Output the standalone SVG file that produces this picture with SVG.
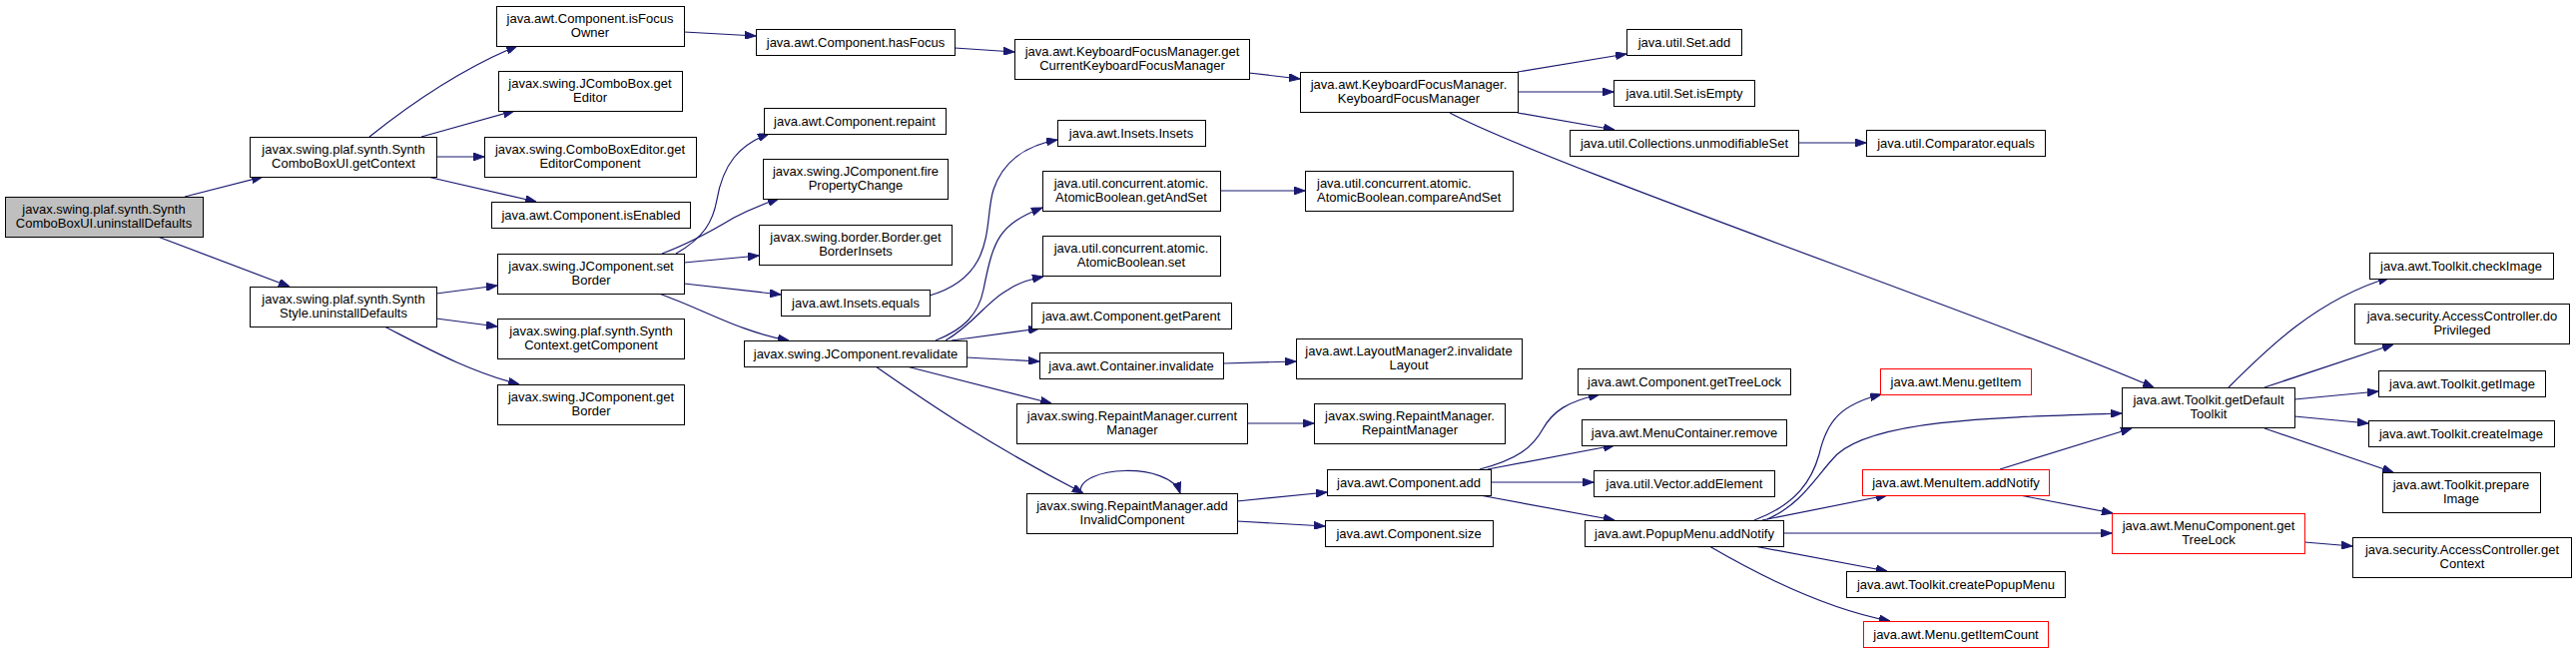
<svg xmlns="http://www.w3.org/2000/svg" width="2580" height="654" viewBox="0 0 2580 654">
<style>
.n rect{fill:#fff;stroke:#000;stroke-width:1}
.root rect{fill:#bfbfbf}
.red rect{stroke:#ff0000}
text{font-family:"Liberation Sans",Arial,sans-serif;font-size:13px;fill:#000;text-anchor:middle}
.l text{text-anchor:start}
.e path{fill:none;stroke:#191970;stroke-width:1.2;marker-end:url(#a)}
</style>
<defs>
<marker id="a" markerUnits="userSpaceOnUse" viewBox="0 0 11 8" refX="11" refY="4" markerWidth="11" markerHeight="8" orient="auto">
<path d="M0,0 L11,4 L0,8 z" fill="#191970" stroke="#191970" stroke-width="1"/>
</marker>
</defs>
<rect width="2580" height="654" fill="#fff"/>
<g class="e" id="edges">
<path d="M185,197 L263,177"/>
<path d="M158,237 L290,287"/>
<path d="M370,137 C410,105 460,70 518,46"/>
<path d="M422,137 L515,111"/>
<path d="M437,157 L485,157"/>
<path d="M428,177 L537,202"/>
<path d="M437,294 L498,286"/>
<path d="M437,319 L498,327"/>
<path d="M385,327 C430,350 470,372 520,385"/>
<path d="M677,254 C705,238 714,222 718,200 C724,165 740,145 770,134"/>
<path d="M663,254 C690,244 715,230 735,218 C750,210 765,204 780,199"/>
<path d="M685,263 L760,256"/>
<path d="M685,284 L782,295"/>
<path d="M660,294 C705,310 740,332 790,341"/>
<path d="M931,296 C1000,276 985,220 995,190 C1005,160 1030,145 1059,140"/>
<path d="M937,341 C965,330 980,315 985,290 C995,240 1000,225 1044,208"/>
<path d="M947,341 C975,325 990,300 1010,290 C1020,283 1030,280 1045,277"/>
<path d="M953,341 L1041,329"/>
<path d="M968,358 L1041,362"/>
<path d="M908,367 L1053,404"/>
<path d="M877,367 C930,404 990,445 1085,494"/>
<path d="M1082,494 C1078,466 1172,462 1182,494"/>
<path d="M1239,502 L1329,493"/>
<path d="M1239,522 L1327,527"/>
<path d="M1249,424 L1316,424"/>
<path d="M1225,364 L1298,362"/>
<path d="M1222,191 L1307,191"/>
<path d="M685,32 L757,36"/>
<path d="M956,48 L1016,52"/>
<path d="M1251,73 L1302,79"/>
<path d="M1520,72 L1629,54"/>
<path d="M1520,92 L1616,92"/>
<path d="M1520,113 L1617,130"/>
<path d="M1452,113 C1550,165 2000,320 2157,388"/>
<path d="M1801,143 L1869,143"/>
<path d="M1482,470 C1520,460 1535,448 1545,430 C1555,412 1570,402 1602,395"/>
<path d="M1490,470 L1617,446"/>
<path d="M1493,483 L1596,483"/>
<path d="M1482,496 L1617,521"/>
<path d="M1757,521 C1800,505 1815,480 1822,455 C1830,420 1845,405 1884,395"/>
<path d="M1770,520 C1805,505 1820,475 1840,455 C1880,420 2000,418 2125,414"/>
<path d="M1765,521 L1890,496"/>
<path d="M1786,534 L2115,534"/>
<path d="M1757,547 L1890,572"/>
<path d="M1712,547 C1760,575 1830,610 1893,622"/>
<path d="M2003,470 L2135,429"/>
<path d="M2023,496 L2116,514"/>
<path d="M2308,543 L2356,547"/>
<path d="M2232,388 C2270,350 2320,300 2393,278"/>
<path d="M2268,388 L2397,345"/>
<path d="M2298,400 L2382,392"/>
<path d="M2298,417 L2372,424"/>
<path d="M2268,429 L2397,473"/>
</g>
<g id="n0" class="n root"><rect x="5.5" y="197.5" width="198" height="40"/><text x="104" y="214">javax.swing.plaf.synth.Synth</text><text x="104" y="228">ComboBoxUI.uninstallDefaults</text></g>
<g id="n1" class="n"><rect x="250.5" y="137.5" width="187" height="40"/><text x="344" y="154">javax.swing.plaf.synth.Synth</text><text x="344" y="168">ComboBoxUI.getContext</text></g>
<g id="n2" class="n"><rect x="250.5" y="287.5" width="187" height="40"/><text x="344" y="304">javax.swing.plaf.synth.Synth</text><text x="344" y="318">Style.uninstallDefaults</text></g>
<g id="n3" class="n"><rect x="497.5" y="6.5" width="188" height="40"/><text x="591" y="23">java.awt.Component.isFocus</text><text x="591" y="37">Owner</text></g>
<g id="n4" class="n"><rect x="499.5" y="71.5" width="184" height="40"/><text x="591" y="88">javax.swing.JComboBox.get</text><text x="591" y="102">Editor</text></g>
<g id="n5" class="n"><rect x="485.5" y="137.5" width="212" height="40"/><text x="591" y="154">javax.swing.ComboBoxEditor.get</text><text x="591" y="168">EditorComponent</text></g>
<g id="n6" class="n"><rect x="492.5" y="202.5" width="199" height="26"/><text x="592" y="220">java.awt.Component.isEnabled</text></g>
<g id="n7" class="n"><rect x="498.5" y="254.5" width="187" height="40"/><text x="592" y="271">javax.swing.JComponent.set</text><text x="592" y="285">Border</text></g>
<g id="n8" class="n"><rect x="498.5" y="319.5" width="187" height="40"/><text x="592" y="336">javax.swing.plaf.synth.Synth</text><text x="592" y="350">Context.getComponent</text></g>
<g id="n9" class="n"><rect x="498.5" y="385.5" width="187" height="40"/><text x="592" y="402">javax.swing.JComponent.get</text><text x="592" y="416">Border</text></g>
<g id="n10" class="n"><rect x="757.5" y="29.5" width="199" height="26"/><text x="857" y="47">java.awt.Component.hasFocus</text></g>
<g id="n11" class="n"><rect x="765.5" y="108.5" width="182" height="26"/><text x="856" y="126">java.awt.Component.repaint</text></g>
<g id="n12" class="n"><rect x="764.5" y="159.5" width="185" height="40"/><text x="857" y="176">javax.swing.JComponent.fire</text><text x="857" y="190">PropertyChange</text></g>
<g id="n13" class="n"><rect x="760.5" y="225.5" width="193" height="40"/><text x="857" y="242">javax.swing.border.Border.get</text><text x="857" y="256">BorderInsets</text></g>
<g id="n14" class="n"><rect x="782.5" y="290.5" width="149" height="26"/><text x="857" y="308">java.awt.Insets.equals</text></g>
<g id="n15" class="n"><rect x="745.5" y="341.5" width="223" height="26"/><text x="857" y="359">javax.swing.JComponent.revalidate</text></g>
<g id="n16" class="n"><rect x="1016.5" y="39.5" width="235" height="40"/><text x="1134" y="56">java.awt.KeyboardFocusManager.get</text><text x="1134" y="70">CurrentKeyboardFocusManager</text></g>
<g id="n17" class="n"><rect x="1059.5" y="120.5" width="148" height="26"/><text x="1133" y="138">java.awt.Insets.Insets</text></g>
<g id="n18" class="n"><rect x="1044.5" y="171.5" width="178" height="40"/><text x="1133" y="188">java.util.concurrent.atomic.</text><text x="1133" y="202">AtomicBoolean.getAndSet</text></g>
<g id="n19" class="n"><rect x="1044.5" y="236.5" width="178" height="40"/><text x="1133" y="253">java.util.concurrent.atomic.</text><text x="1133" y="267">AtomicBoolean.set</text></g>
<g id="n20" class="n"><rect x="1033.5" y="303.5" width="200" height="26"/><text x="1133" y="321">java.awt.Component.getParent</text></g>
<g id="n21" class="n"><rect x="1041.5" y="353.5" width="184" height="26"/><text x="1133" y="371">java.awt.Container.invalidate</text></g>
<g id="n22" class="n"><rect x="1018.5" y="404.5" width="231" height="40"/><text x="1134" y="421">javax.swing.RepaintManager.current</text><text x="1134" y="435">Manager</text></g>
<g id="n23" class="n"><rect x="1028.5" y="494.5" width="211" height="40"/><text x="1134" y="511">javax.swing.RepaintManager.add</text><text x="1134" y="525">InvalidComponent</text></g>
<g id="n24" class="n"><rect x="1302.5" y="72.5" width="218" height="40"/><text x="1411" y="89">java.awt.KeyboardFocusManager.</text><text x="1411" y="103">KeyboardFocusManager</text></g>
<g id="n25" class="n l"><rect x="1307.5" y="171.5" width="208" height="40"/><text x="1319" y="188">java.util.concurrent.atomic.</text><text x="1319" y="202">AtomicBoolean.compareAndSet</text></g>
<g id="n26" class="n"><rect x="1298.5" y="339.5" width="226" height="40"/><text x="1411" y="356">java.awt.LayoutManager2.invalidate</text><text x="1411" y="370">Layout</text></g>
<g id="n27" class="n"><rect x="1316.5" y="404.5" width="191" height="40"/><text x="1412" y="421">javax.swing.RepaintManager.</text><text x="1412" y="435">RepaintManager</text></g>
<g id="n28" class="n"><rect x="1329.5" y="470.5" width="164" height="26"/><text x="1411" y="488">java.awt.Component.add</text></g>
<g id="n29" class="n"><rect x="1327.5" y="521.5" width="168" height="26"/><text x="1411" y="539">java.awt.Component.size</text></g>
<g id="n30" class="n"><rect x="1629.5" y="29.5" width="115" height="26"/><text x="1687" y="47">java.util.Set.add</text></g>
<g id="n31" class="n"><rect x="1616.5" y="80.5" width="141" height="26"/><text x="1687" y="98">java.util.Set.isEmpty</text></g>
<g id="n32" class="n"><rect x="1572.5" y="130.5" width="229" height="26"/><text x="1687" y="148">java.util.Collections.unmodifiableSet</text></g>
<g id="n33" class="n"><rect x="1869.5" y="130.5" width="179" height="26"/><text x="1959" y="148">java.util.Comparator.equals</text></g>
<g id="n34" class="n"><rect x="1580.5" y="369.5" width="213" height="26"/><text x="1687" y="387">java.awt.Component.getTreeLock</text></g>
<g id="n35" class="n"><rect x="1584.5" y="420.5" width="205" height="26"/><text x="1687" y="438">java.awt.MenuContainer.remove</text></g>
<g id="n36" class="n"><rect x="1596.5" y="471.5" width="181" height="26"/><text x="1687" y="489">java.util.Vector.addElement</text></g>
<g id="n37" class="n"><rect x="1587.5" y="521.5" width="199" height="26"/><text x="1687" y="539">java.awt.PopupMenu.addNotify</text></g>
<g id="n38" class="n red"><rect x="1883.5" y="369.5" width="151" height="26"/><text x="1959" y="387">java.awt.Menu.getItem</text></g>
<g id="n39" class="n red"><rect x="1865.5" y="470.5" width="187" height="26"/><text x="1959" y="488">java.awt.MenuItem.addNotify</text></g>
<g id="n40" class="n"><rect x="1849.5" y="572.5" width="219" height="26"/><text x="1959" y="590">java.awt.Toolkit.createPopupMenu</text></g>
<g id="n41" class="n red"><rect x="1866.5" y="622.5" width="185" height="26"/><text x="1959" y="640">java.awt.Menu.getItemCount</text></g>
<g id="n42" class="n"><rect x="2125.5" y="388.5" width="173" height="40"/><text x="2212" y="405">java.awt.Toolkit.getDefault</text><text x="2212" y="419">Toolkit</text></g>
<g id="n43" class="n red"><rect x="2115.5" y="514.5" width="193" height="40"/><text x="2212" y="531">java.awt.MenuComponent.get</text><text x="2212" y="545">TreeLock</text></g>
<g id="n44" class="n"><rect x="2373.5" y="253.5" width="184" height="26"/><text x="2465" y="271">java.awt.Toolkit.checkImage</text></g>
<g id="n45" class="n"><rect x="2358.5" y="304.5" width="215" height="40"/><text x="2466" y="321">java.security.AccessController.do</text><text x="2466" y="335">Privileged</text></g>
<g id="n46" class="n"><rect x="2382.5" y="371.5" width="167" height="26"/><text x="2466" y="389">java.awt.Toolkit.getImage</text></g>
<g id="n47" class="n"><rect x="2372.5" y="421.5" width="186" height="26"/><text x="2465" y="439">java.awt.Toolkit.createImage</text></g>
<g id="n48" class="n"><rect x="2386.5" y="473.5" width="158" height="40"/><text x="2465" y="490">java.awt.Toolkit.prepare</text><text x="2465" y="504">Image</text></g>
<g id="n49" class="n"><rect x="2356.5" y="538.5" width="219" height="40"/><text x="2466" y="555">java.security.AccessController.get</text><text x="2466" y="569">Context</text></g>
</svg>
